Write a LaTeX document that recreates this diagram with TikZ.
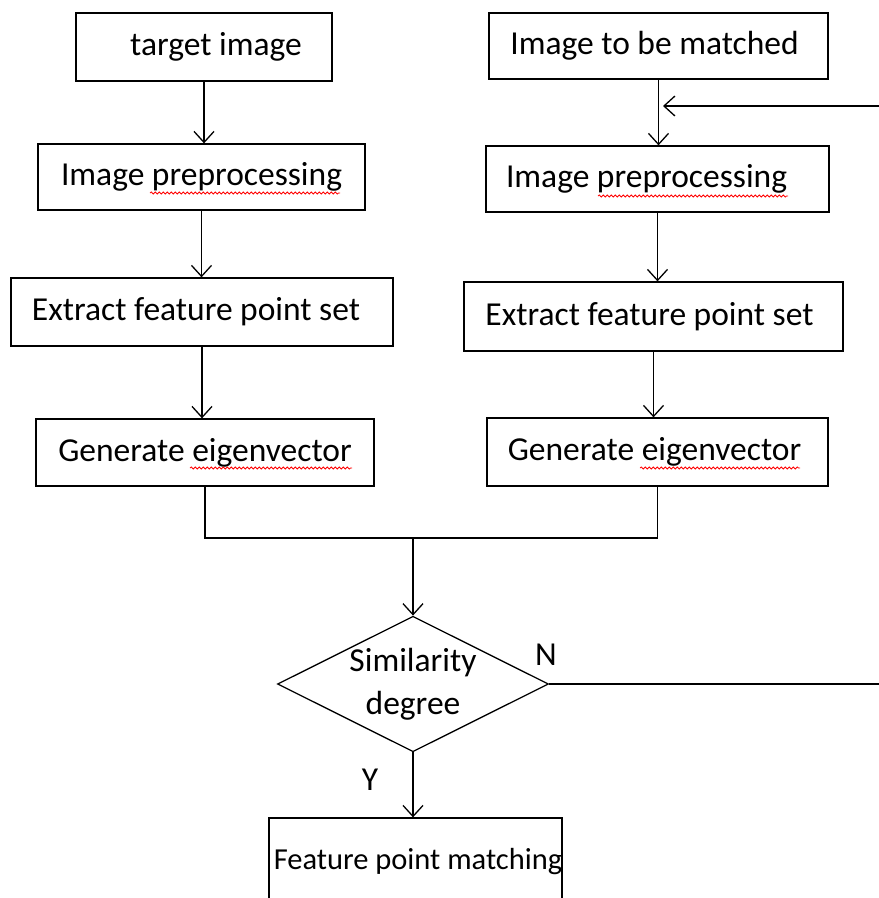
\documentclass[tikz,border=0pt]{standalone}
\usepackage{fontspec}
\setmainfont{Carlito}
\usetikzlibrary{shapes.geometric,arrows.meta,decorations.pathmorphing}

\tikzset{
  box/.style={draw, line width=1.3pt, inner sep=0pt, font=\fontsize{33.5}{40}\selectfont},
  decide/.style={box, diamond, aspect=2, align=center, minimum width=265pt, minimum height=132pt, font=\fontsize{33.5}{43}\selectfont},
  arr/.style={line width=1.3pt, -{Straight Barb[length=11pt,width=20pt]}},
  wiggle/.style={red, line width=0.8pt, decorate, decoration={snake, amplitude=1pt, segment length=4pt}},
  lbl/.style={font=\fontsize{33.5}{40}\selectfont, inner sep=0pt}
}

\begin{document}
\begin{tikzpicture}[x=1pt, y=-1pt]
\useasboundingbox (0,0) rectangle (879,898);

% left column
\node[box, minimum width=256pt, minimum height=68pt] (tgt) at (204,47) {\hspace*{24pt}target image};
\node[box, minimum width=327pt, minimum height=66pt] (prepL) at (201.5,177) {Image preprocessing};
\node[box, minimum width=382pt, minimum height=68pt] (extL) at (202,312) {\hspace*{-12pt}Extract feature point set};
\node[box, minimum width=338pt, minimum height=67pt] (genL) at (205,452.5) {Generate eigenvector};

% right column
\node[box, minimum width=339pt, minimum height=66pt] (match) at (658.5,46) {\hspace*{-8pt}Image to be matched};
\node[box, minimum width=343pt, minimum height=66pt] (prepR) at (657.5,179) {\hspace*{-22pt}Image preprocessing};
\node[box, minimum width=379pt, minimum height=69pt] (extR) at (653.5,316.5) {\hspace*{-8pt}Extract feature point set};
\node[box, minimum width=341pt, minimum height=68pt] (genR) at (657.5,452) {\hspace*{-6pt}Generate eigenvector};

% decision and result
\node[decide] (sim) at (413,684) {Similarity\\degree};
\node[box, minimum width=293pt, minimum height=88pt, font=\fontsize{30.5}{36}\selectfont] (fpm) at (415.5,862) {\makebox[280pt][c]{\hspace*{5pt}Feature point matching}};

% spell-check marks
\draw[wiggle] (150,193) -- (340,193);
\draw[wiggle] (598,196) -- (788,196);
\draw[wiggle] (190,468) -- (352,468);
\draw[wiggle] (640,468) -- (800,468);

% arrows down each column
\draw[arr] (tgt.south) -- (tgt.south |- prepL.north);
\draw[arr] (prepL.south) -- (prepL.south |- extL.north);
\draw[arr] (extL.south) -- (extL.south |- genL.north);
\draw[arr] (match.south) -- (match.south |- prepR.north);
\draw[arr] (prepR.south) -- (prepR.south |- extR.north);
\draw[arr] (extR.south) -- (extR.south |- genR.north);

% join
\coordinate (join) at (413,538);
\draw[line width=1.3pt] (genL.south) |- (join) -| (genR.south);
\draw[arr] (join) -- (sim.north);
\draw[arr] (sim.south) -- (sim.south |- fpm.north);
\node[lbl] (yes) at (370,780) {Y};

% feedback loop
\coordinate (edge) at (900,684);
\coordinate (back) at (663,106);
\draw[arr] (sim.east) -- (edge) |- (back);
\node[lbl] (no) at (546,655) {N};
\end{tikzpicture}
\end{document}
